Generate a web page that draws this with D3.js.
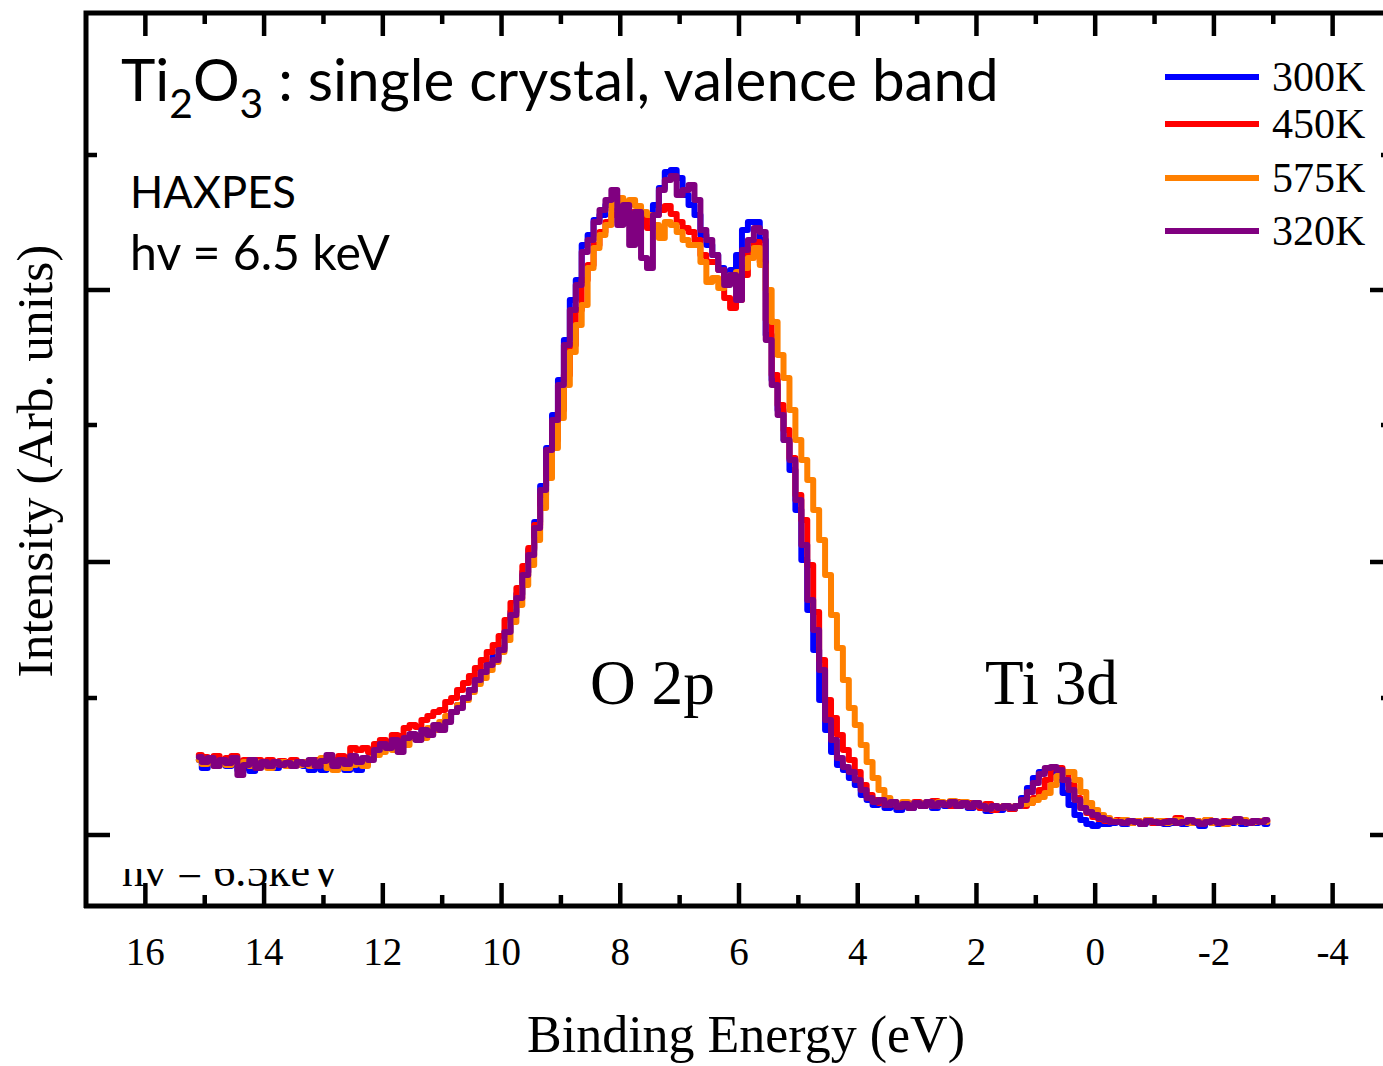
<!DOCTYPE html>
<html>
<head>
<meta charset="utf-8">
<script src="https://cdn.jsdelivr.net/npm/d3@7"></script>
<style>
  body { margin: 0; background: #fff; }
  svg { display: block; }
</style>
</head>
<body>
<div id="chart"></div>
<script>
// binding energy grid (eV), shared by all four scans
const energy = [
  15.1,15.0,14.9,14.8,14.7,14.6,14.5,14.4,14.3,14.2,
  14.1,14.0,13.9,13.8,13.7,13.6,13.5,13.4,13.3,13.2,
  13.1,13.0,12.9,12.8,12.7,12.6,12.5,12.4,12.3,12.2,
  12.1,12.0,11.9,11.8,11.7,11.6,11.5,11.4,11.3,11.2,
  11.1,11.0,10.9,10.8,10.7,10.6,10.5,10.4,10.3,10.2,
  10.1,10.0,9.9,9.8,9.7,9.6,9.5,9.4,9.3,9.2,
  9.1,9.0,8.9,8.8,8.7,8.6,8.5,8.4,8.3,8.2,
  8.1,8.0,7.9,7.8,7.7,7.6,7.5,7.4,7.3,7.2,
  7.1,7.0,6.9,6.8,6.7,6.6,6.5,6.4,6.3,6.2,
  6.1,6.0,5.9,5.8,5.7,5.6,5.5,5.4,5.3,5.2,
  5.1,5.0,4.9,4.8,4.7,4.6,4.5,4.4,4.3,4.2,
  4.1,4.0,3.9,3.8,3.7,3.6,3.5,3.4,3.3,3.2,
  3.1,3.0,2.9,2.8,2.7,2.6,2.5,2.4,2.3,2.2,
  2.1,2.0,1.9,1.8,1.7,1.6,1.5,1.4,1.3,1.2,
  1.1,1.0,0.9,0.8,0.7,0.6,0.5,0.4,0.3,0.2,
  0.1,0.0,-0.1,-0.2,-0.3,-0.4,-0.5,-0.6,-0.7,-0.8,
  -0.9,-1.0,-1.1,-1.2,-1.3,-1.4,-1.5,-1.6,-1.7,-1.8,
  -1.9,-2.0,-2.1,-2.2,-2.3,-2.4,-2.5,-2.6,-2.7,-2.8,
  -2.9
];

// intensity (arb. units)
const int300K = [
  75,67,73,71,75,69,73,65,71,64,
  72,69,72,67,71,73,70,72,69,65,
  71,65,73,67,70,65,73,65,75,78,
  85,89,90,93,89,97,100,98,105,103,
  109,107,115,123,130,137,145,153,163,171,
  178,187,203,223,241,263,285,313,349,387,
  420,455,495,535,555,590,600,615,620,630,
  635,625,620,615,623,610,617,630,647,663,
  665,657,640,630,620,600,590,580,567,555,
  565,580,605,613,613,595,500,455,425,395,
  365,325,275,225,185,135,105,83,70,65,
  57,50,40,35,30,33,27,31,25,29,
  27,31,29,32,27,31,29,32,29,31,
  27,31,27,24,29,25,28,26,29,37,
  47,57,63,65,63,55,42,30,20,15,
  11,9,11,11,12,13,11,12,13,11,
  13,12,14,11,12,13,11,13,12,9,
  13,12,11,13,12,14,11,13,12,13,
  11
];

const int450K = [
  80,78,75,79,73,77,79,72,75,71,
  75,72,75,71,74,72,75,71,73,70,
  75,73,77,73,79,77,87,85,87,83,
  91,95,93,100,99,107,110,108,115,119,
  123,125,133,137,145,152,159,167,175,183,
  190,199,215,232,247,269,287,310,340,367,
  395,425,460,490,525,555,570,590,603,613,
  620,625,613,623,610,617,607,620,625,629,
  621,613,607,603,595,580,573,573,565,537,
  527,535,560,585,593,573,515,460,430,405,
  377,340,315,270,223,175,135,117,100,85,
  75,63,50,40,35,32,30,33,29,32,
  30,33,29,32,34,31,32,29,33,30,
  32,29,27,31,25,28,29,26,29,29,
  32,37,45,55,67,67,63,50,37,27,
  22,18,16,14,13,15,13,12,14,13,
  15,12,13,14,13,17,13,12,14,13,
  15,13,12,14,13,15,13,12,14,13,
  14
];

const int575K = [
  75,71,75,69,73,70,75,71,73,69,
  73,70,67,71,73,69,72,70,73,69,
  73,77,67,65,71,67,70,75,69,77,
  80,83,87,85,93,90,97,100,97,107,
  105,113,119,123,130,135,143,151,157,165,
  173,183,195,213,230,250,270,295,327,357,
  387,417,450,483,510,530,567,587,600,610,
  630,637,625,635,629,623,620,610,597,613,
  610,603,595,590,590,573,553,557,547,553,
  560,563,567,577,587,570,545,513,480,457,
  425,395,375,355,325,295,260,220,187,155,
  127,110,90,73,57,45,37,32,30,33,
  29,32,30,33,29,33,31,34,30,33,
  29,32,29,26,29,27,29,27,29,31,
  32,35,38,42,50,59,63,63,55,43,
  32,25,20,17,14,13,15,12,14,13,
  15,13,14,12,13,15,13,12,14,13,
  15,12,13,11,14,13,15,12,13,14,
  13
];

const int320K = [
  78,73,77,69,75,72,77,60,70,75,
  67,73,69,73,70,72,69,73,71,75,
  69,74,80,69,75,71,79,73,77,75,
  85,91,87,95,83,97,101,95,105,100,
  110,105,113,123,127,137,145,155,163,170,
  175,185,203,220,237,260,280,307,345,385,
  415,450,490,525,550,583,595,613,625,635,
  645,610,630,590,623,577,567,620,645,655,
  659,640,645,650,635,605,595,580,565,550,
  560,535,585,595,607,603,495,450,420,395,
  375,335,290,235,205,165,115,95,77,68,
  63,55,45,37,33,35,30,33,28,31,
  27,32,29,33,29,32,30,33,29,32,
  28,32,29,26,29,27,29,27,29,35,
  43,52,61,67,68,65,55,45,35,27,
  23,20,17,15,13,13,12,14,13,11,
  14,13,12,13,14,12,13,15,13,11,
  13,14,12,13,13,16,13,12,14,13,
  15
];

const seriesNames = ["300K", "450K", "575K", "320K"];
const seriesColors = ["#0000ff", "#ff0000", "#ff8000", "#800080"];

const xTicksMajor = [16, 14, 12, 10, 8, 6, 4, 2, 0, -2, -4];
const xTicksMinor = [15, 13, 11, 9, 7, 5, 3, 1, -1, -3];
const yTicksMajor = [0, 273, 545];
const yTicksMinor = [137, 410, 680];

const _width = 1383;
const _height = 1066;
const _frame = { left: 86, right: 1392, top: 13, bottom: 906 };
const SERIF = "'Liberation Serif', 'Times New Roman', serif";
const SANS = "Lato, 'Open Sans', sans-serif";

const svg = d3.select("#chart").append("svg")
  .attr("width", _width)
  .attr("height", _height);

svg.append("rect")
  .attr("width", _width)
  .attr("height", _height)
  .attr("fill", "#fff");

const x = d3.scaleLinear().domain([17, -5]).range([_frame.left, _frame.right]);
const y = d3.scaleLinear().domain([-71, 822]).range([_frame.bottom, _frame.top]);

// scale a text's font size so that its length matches the picture
const fitWidth = (text, target) => {
  const fs = parseFloat(text.attr("font-size"));
  const w = text.node().getComputedTextLength();
  text.attr("font-size", fs * target / w);
  return text;
}

/* spectra */
const series = seriesNames.map((name, i) => ({
  name: name,
  color: seriesColors[i],
  values: [int300K, int450K, int575K, int320K][i]
}));

const line = d3.line()
  .x(d => x(d[0]))
  .y(d => y(d[1]))
  .curve(d3.curveStep);

svg.append("g")
  .selectAll("path")
  .data(series)
  .join("path")
  .attr("d", s => line(energy.map((e, i) => [e, s.values[i]])))
  .attr("fill", "none")
  .attr("stroke", s => s.color)
  .attr("stroke-width", 6)
  .attr("stroke-linejoin", "round")
  .attr("stroke-linecap", "round");

/* ticks on all four sides */
const tickAxis = (axis, transform, values, size) => {
  const g = svg.append("g")
    .attr("transform", transform)
    .call(axis.tickValues(values).tickSize(size).tickFormat("").offset(0));
  g.select(".domain").remove();
  g.selectAll(".tick line").attr("stroke", "#000").attr("stroke-width", 4.5);
  return g;
}

tickAxis(d3.axisBottom(x), `translate(0,${_frame.bottom})`, xTicksMinor, -11);
tickAxis(d3.axisTop(x), `translate(0,${_frame.top})`, xTicksMajor, -23);
tickAxis(d3.axisTop(x), `translate(0,${_frame.top})`, xTicksMinor, -11);
tickAxis(d3.axisLeft(y), `translate(${_frame.left},0)`, yTicksMajor, -24);
tickAxis(d3.axisLeft(y), `translate(${_frame.left},0)`, yTicksMinor, -11);
tickAxis(d3.axisRight(y), `translate(${_frame.right},0)`, yTicksMajor, -22);
tickAxis(d3.axisRight(y), `translate(${_frame.right},0)`, yTicksMinor, -11);

const xAxis = svg.append("g")
  .attr("transform", `translate(0,${_frame.bottom})`)
  .call(d3.axisBottom(x)
    .tickValues(xTicksMajor)
    .tickSize(-23)
    .tickPadding(31)
    .offset(0)
    .tickFormat(d => String(d)));
xAxis.select(".domain").remove();
xAxis.selectAll(".tick line").attr("stroke", "#000").attr("stroke-width", 4.5);
xAxis.selectAll(".tick text")
  .attr("font-family", SERIF)
  .attr("font-size", 39)
  .attr("fill", "#000");

/* frame */
const framePath = d3.path();
framePath.moveTo(_frame.right + 10, _frame.top);
framePath.lineTo(_frame.left, _frame.top);
framePath.lineTo(_frame.left, _frame.bottom + 2);
framePath.moveTo(_frame.left - 2, _frame.bottom);
framePath.lineTo(_frame.right + 10, _frame.bottom);
framePath.moveTo(_frame.right, _frame.top);
framePath.lineTo(_frame.right, _frame.bottom);

svg.append("path")
  .attr("d", framePath.toString())
  .attr("fill", "none")
  .attr("stroke", "#000")
  .attr("stroke-width", 5)
  .attr("stroke-linejoin", "miter");

/* leftover text from the pasted panel, mostly hidden under the axis */
svg.append("clipPath")
  .attr("id", "clip-low")
  .append("rect")
  .attr("x", _frame.left)
  .attr("y", 869)
  .attr("width", 400)
  .attr("height", 40);

const hidden = svg.append("text")
  .attr("clip-path", "url(#clip-low)")
  .attr("x", 122)
  .attr("y", 886)
  .attr("font-family", SERIF)
  .attr("font-size", 44)
  .text("hv = 6.5keV");
fitWidth(hidden, 220);

/* title */
const title = svg.append("text")
  .attr("x", 121)
  .attr("y", 101)
  .attr("font-family", SANS)
  .attr("fill", "#000");

const drawTitle = fs => {
  title.selectAll("*").remove();
  title.attr("font-size", fs);
  title.append("tspan").text("Ti");
  title.append("tspan").attr("font-size", fs * 0.7).attr("dy", fs * 0.29).text("2");
  title.append("tspan").attr("dy", -fs * 0.29).text("O");
  title.append("tspan").attr("font-size", fs * 0.7).attr("dy", fs * 0.29).text("3");
  title.append("tspan").attr("dy", -fs * 0.29).text(" : single crystal, valence band");
}
drawTitle(56);
drawTitle(56 * 878 / title.node().getComputedTextLength());

fitWidth(svg.append("text")
  .attr("x", 130).attr("y", 208)
  .attr("font-family", SANS).attr("font-size", 40)
  .text("HAXPES"), 166);

fitWidth(svg.append("text")
  .attr("x", 130).attr("y", 270)
  .attr("font-family", SANS).attr("font-size", 40)
  .text("hv = 6.5 keV"), 260);

/* peak labels */
fitWidth(svg.append("text")
  .attr("x", 590).attr("y", 704)
  .attr("font-family", SERIF).attr("font-size", 58)
  .text("O 2p"), 125);

fitWidth(svg.append("text")
  .attr("x", 985).attr("y", 704)
  .attr("font-family", SERIF).attr("font-size", 58)
  .text("Ti 3d"), 133);

/* axis titles */
fitWidth(svg.append("text")
  .attr("x", 746).attr("y", 1052)
  .attr("text-anchor", "middle")
  .attr("font-family", SERIF).attr("font-size", 50)
  .text("Binding Energy (eV)"), 438);

fitWidth(svg.append("text")
  .attr("transform", "translate(52,461) rotate(-90)")
  .attr("text-anchor", "middle")
  .attr("font-family", SERIF).attr("font-size", 50)
  .text("Intensity (Arb. units)"), 433);

/* legend */
const legendY = [77, 124, 178, 231];
const legend = svg.append("g")
  .selectAll("g")
  .data(series)
  .join("g")
  .attr("transform", (s, i) => `translate(0,${legendY[i]})`);

legend.append("line")
  .attr("x1", 1165)
  .attr("x2", 1259)
  .attr("stroke", s => s.color)
  .attr("stroke-width", 6);

legend.append("text")
  .attr("x", 1272)
  .attr("y", 14)
  .attr("font-family", SERIF)
  .attr("font-size", 42)
  .text(s => s.name);
</script>
</body>
</html>
